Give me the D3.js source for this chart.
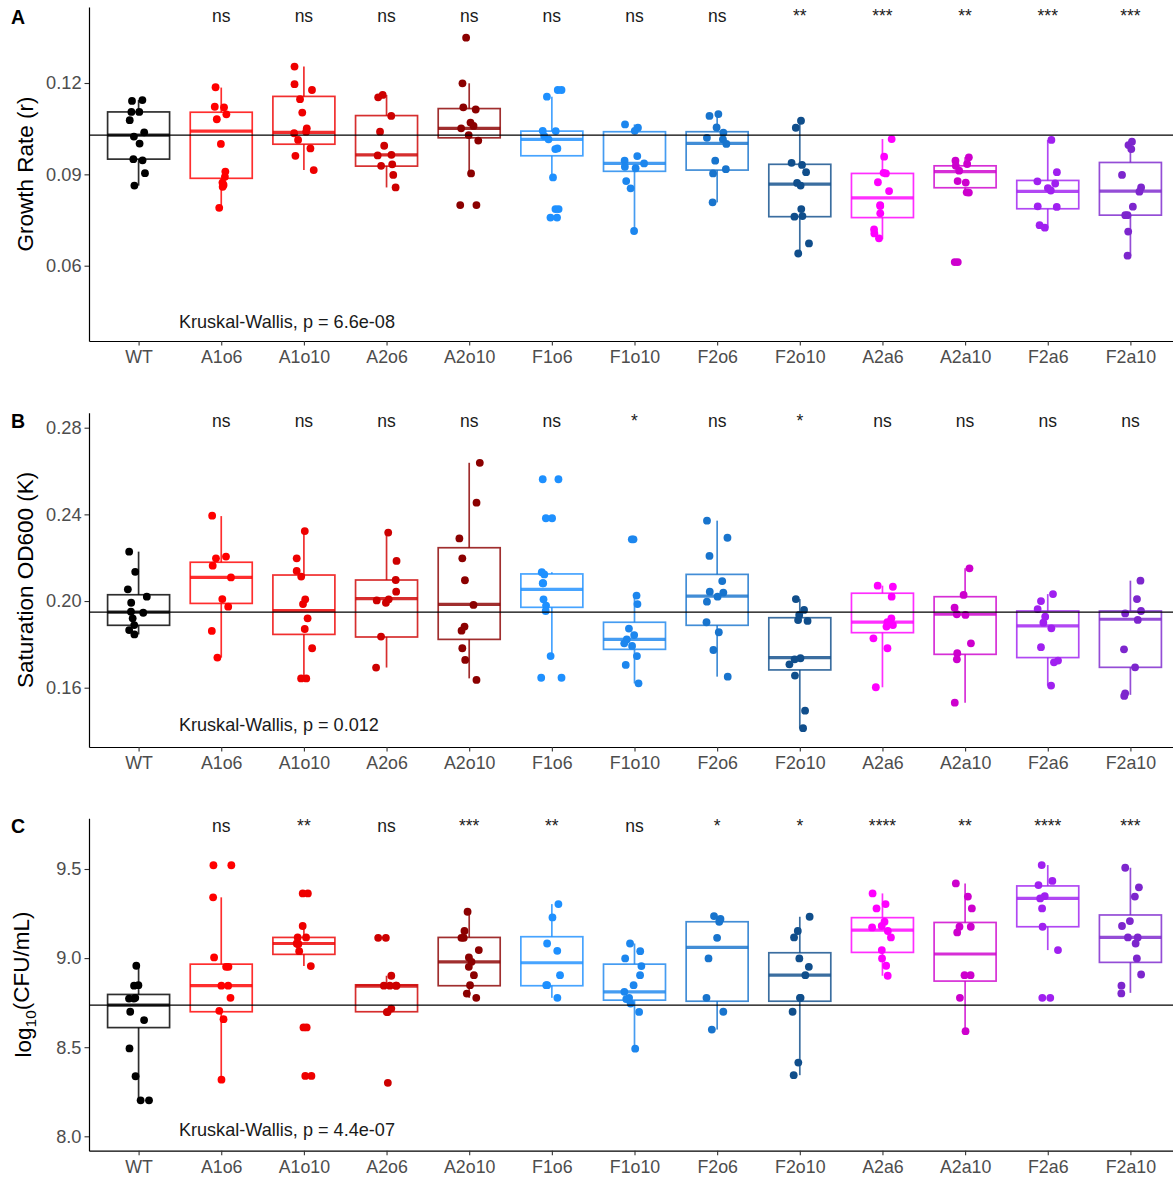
<!DOCTYPE html>
<html>
<head>
<meta charset="utf-8">
<script src="https://cdn.jsdelivr.net/npm/d3@7"></script>
<style>
  body { margin: 0; background: #fff; }
  svg { display: block; }
  text { font-family: "Liberation Sans", Arial, Helvetica, sans-serif; }
</style>
</head>
<body>
<svg id="chart" width="1173" height="1179"></svg>
<script>
// ---- strains ----
const categories = ["WT", "A1o6", "A1o10", "A2o6", "A2o10", "F1o6", "F1o10", "F2o6", "F2o10", "A2a6", "A2a10", "F2a6", "F2a10"];
const groupColors = ["#000000", "#FF0000", "#EE0000", "#CD0000", "#8B0000", "#1E90FF", "#1C86EE", "#1874CD", "#104E8B", "#FF00FF", "#CD00CD", "#A020F0", "#7D26CD"];

// ---- A: growth rate (r) ----
const growthPts = [
  [0.1144, 0.1141, 0.1105, 0.1105, 0.1078, 0.1038, 0.1024, 0.1001, 0.0950, 0.0946, 0.0904, 0.0863],
  [0.1186, 0.1122, 0.1120, 0.1097, 0.1081, 0.1000, 0.0909, 0.0892, 0.0873, 0.0865, 0.0859, 0.0790],
  [0.1254, 0.1196, 0.1177, 0.1147, 0.1103, 0.1051, 0.1040, 0.1035, 0.1013, 0.0985, 0.0961, 0.0914],
  [0.1161, 0.1153, 0.1092, 0.1040, 0.0994, 0.0964, 0.0962, 0.0933, 0.0928, 0.0898, 0.0857],
  [0.1349, 0.1199, 0.1120, 0.1113, 0.1070, 0.1059, 0.1051, 0.1029, 0.1011, 0.0903, 0.0799, 0.0799],
  [0.1177, 0.1177, 0.1155, 0.1043, 0.1042, 0.1026, 0.1015, 0.0985, 0.0983, 0.0890, 0.0786, 0.0786, 0.0758, 0.0758],
  [0.1064, 0.1053, 0.1043, 0.0960, 0.0945, 0.0936, 0.0925, 0.0920, 0.0878, 0.0854, 0.0714],
  [0.1098, 0.1092, 0.1054, 0.1037, 0.1020, 0.1015, 0.1000, 0.0945, 0.0917, 0.0903, 0.0808],
  [0.1076, 0.1053, 0.0938, 0.0931, 0.0907, 0.0872, 0.0863, 0.0786, 0.0763, 0.0761, 0.0673, 0.0640],
  [0.1016, 0.0958, 0.0905, 0.0903, 0.0874, 0.0845, 0.0799, 0.0796, 0.0772, 0.0719, 0.0706, 0.0690],
  [0.0956, 0.0945, 0.0934, 0.0928, 0.0912, 0.0878, 0.0873, 0.0841, 0.0840, 0.0612, 0.0612],
  [0.1013, 0.0907, 0.0877, 0.0870, 0.0855, 0.0847, 0.0795, 0.0793, 0.0733, 0.0725],
  [0.1007, 0.0996, 0.0983, 0.0898, 0.0857, 0.0843, 0.0794, 0.0766, 0.0766, 0.0712, 0.0633]
];
// [lower whisker, Q1, median, Q3, upper whisker]
const growthBox = [
  [0.0863, 0.0950, 0.1029, 0.1105, 0.1144],
  [0.0790, 0.0887, 0.1042, 0.1104, 0.1185],
  [0.0914, 0.0999, 0.1038, 0.1156, 0.1254],
  [0.0857, 0.0927, 0.0964, 0.1093, 0.1161],
  [0.0903, 0.1020, 0.1051, 0.1116, 0.1199],
  [0.0890, 0.0961, 0.1015, 0.1042, 0.1155],
  [0.0714, 0.0910, 0.0936, 0.1040, 0.1064],
  [0.0808, 0.0914, 0.1002, 0.1040, 0.1100],
  [0.0640, 0.0761, 0.0868, 0.0933, 0.1076],
  [0.0687, 0.0758, 0.0823, 0.0903, 0.1016],
  [0.0840, 0.0856, 0.0909, 0.0928, 0.0956],
  [0.0725, 0.0787, 0.0844, 0.0880, 0.1013],
  [0.0633, 0.0766, 0.0845, 0.0939, 0.1007]
];
const growthSig = ["", "ns", "ns", "ns", "ns", "ns", "ns", "ns", "**", "***", "**", "***", "***"];
const growthTicks = [0.06, 0.09, 0.12];

// ---- B: saturation OD600 (K) ----
const odPts = [
  [0.2228, 0.2135, 0.2054, 0.2020, 0.1992, 0.1951, 0.1946, 0.1920, 0.1889, 0.1866, 0.1846],
  [0.2394, 0.2205, 0.2197, 0.2163, 0.2109, 0.2009, 0.1974, 0.1862, 0.1739],
  [0.2323, 0.2197, 0.2139, 0.2113, 0.2008, 0.1986, 0.1920, 0.1871, 0.1782, 0.1643, 0.1643],
  [0.2316, 0.2185, 0.2097, 0.2043, 0.2008, 0.2003, 0.1992, 0.1836, 0.1693],
  [0.2638, 0.2454, 0.2289, 0.2197, 0.2096, 0.1982, 0.1882, 0.1863, 0.1782, 0.1728, 0.1636],
  [0.2562, 0.2562, 0.2382, 0.2382, 0.2133, 0.2123, 0.2082, 0.2082, 0.2008, 0.1979, 0.1954, 0.1746, 0.1646, 0.1646],
  [0.2285, 0.2285, 0.2025, 0.1986, 0.1873, 0.1843, 0.1823, 0.1805, 0.1793, 0.1746, 0.1705, 0.1620],
  [0.2371, 0.2292, 0.2208, 0.2092, 0.2043, 0.2039, 0.2020, 0.1997, 0.1902, 0.1856, 0.1774, 0.1651],
  [0.2009, 0.1959, 0.1936, 0.1912, 0.1908, 0.1736, 0.1731, 0.1708, 0.1656, 0.1494, 0.1413],
  [0.2071, 0.2066, 0.2020, 0.1920, 0.1903, 0.1889, 0.1882, 0.1828, 0.1782, 0.1602],
  [0.2151, 0.2028, 0.1969, 0.1939, 0.1936, 0.1805, 0.1759, 0.1731, 0.1531],
  [0.2032, 0.2000, 0.1963, 0.1928, 0.1900, 0.1874, 0.1787, 0.1725, 0.1717, 0.1610],
  [0.2094, 0.2009, 0.1954, 0.1943, 0.1913, 0.1777, 0.1694, 0.1574, 0.1562]
];
const odBox = [
  [0.1846, 0.1888, 0.1949, 0.2029, 0.2228],
  [0.1739, 0.1989, 0.2109, 0.2179, 0.2392],
  [0.1643, 0.1846, 0.1956, 0.2120, 0.2323],
  [0.1693, 0.1834, 0.2011, 0.2097, 0.2316],
  [0.1643, 0.1823, 0.1985, 0.2246, 0.2638],
  [0.1746, 0.1971, 0.2054, 0.2125, 0.2133],
  [0.1620, 0.1777, 0.1823, 0.1902, 0.2025],
  [0.1651, 0.1888, 0.2023, 0.2123, 0.2371],
  [0.1413, 0.1682, 0.1739, 0.1923, 0.2009],
  [0.1602, 0.1854, 0.1903, 0.2036, 0.2071],
  [0.1531, 0.1754, 0.1939, 0.2020, 0.2151],
  [0.1610, 0.1739, 0.1885, 0.1954, 0.2032],
  [0.1567, 0.1694, 0.1916, 0.1954, 0.2094]
];
const odSig = ["", "ns", "ns", "ns", "ns", "ns", "*", "ns", "*", "ns", "ns", "ns", "ns"];
const odTicks = [0.16, 0.20, 0.24, 0.28];

// ---- C: log10(CFU/mL) ----
const cfuPts = [
  [8.957, 8.848, 8.845, 8.777, 8.773, 8.773, 8.699, 8.652, 8.493, 8.337, 8.202, 8.202],
  [9.521, 9.521, 9.341, 9.004, 8.951, 8.951, 8.845, 8.845, 8.777, 8.704, 8.657, 8.318],
  [9.363, 9.363, 9.180, 9.116, 9.116, 9.082, 9.079, 9.079, 9.039, 8.955, 8.611, 8.611, 8.339, 8.339],
  [9.114, 9.114, 8.901, 8.845, 8.845, 8.845, 8.845, 8.717, 8.697, 8.697, 8.300],
  [9.260, 9.152, 9.114, 9.114, 9.045, 9.004, 8.979, 8.951, 8.904, 8.848, 8.801, 8.777],
  [9.303, 9.228, 9.082, 9.041, 8.904, 8.848, 8.848, 8.777],
  [9.082, 9.039, 8.998, 8.955, 8.904, 8.848, 8.811, 8.777, 8.770, 8.745, 8.698, 8.492],
  [9.236, 9.220, 9.204, 9.114, 8.998, 8.777, 8.699, 8.599],
  [9.232, 9.152, 9.116, 8.998, 8.951, 8.904, 8.777, 8.777, 8.699, 8.414, 8.343],
  [9.363, 9.303, 9.279, 9.204, 9.180, 9.172, 9.152, 9.116, 9.045, 8.998, 8.957, 8.901],
  [9.419, 9.345, 9.279, 9.176, 9.176, 9.144, 8.904, 8.904, 8.777, 8.590],
  [9.522, 9.433, 9.410, 9.348, 9.335, 9.279, 9.176, 9.045, 8.777, 8.777],
  [9.507, 9.397, 9.345, 9.208, 9.180, 9.116, 9.116, 9.082, 8.998, 8.908, 8.845, 8.802]
];
const cfuBox = [
  [8.202, 8.610, 8.736, 8.796, 8.957],
  [8.318, 8.699, 8.845, 8.966, 9.341],
  [8.955, 9.021, 9.082, 9.116, 9.180],
  [8.697, 8.699, 8.843, 8.850, 8.901],
  [8.777, 8.845, 8.979, 9.116, 9.260],
  [8.777, 8.845, 8.974, 9.120, 9.303],
  [8.492, 8.764, 8.811, 8.966, 9.082],
  [8.599, 8.758, 9.060, 9.204, 9.236],
  [8.343, 8.758, 8.904, 9.030, 9.232],
  [8.901, 9.032, 9.157, 9.227, 9.363],
  [8.590, 8.871, 9.023, 9.200, 9.419],
  [9.045, 9.176, 9.335, 9.405, 9.522],
  [8.805, 8.976, 9.116, 9.242, 9.507]
];
const cfuSig = ["", "ns", "**", "ns", "***", "**", "ns", "*", "*", "****", "**", "****", "***"];
const cfuTicks = [8.0, 8.5, 9.0, 9.5];

// ---- panel setup ----
const panels = [
  { letter: "A", title: ["Growth Rate (r)"], pts: growthPts, box: growthBox, sig: growthSig,
    ticks: growthTicks, fmt: ".2f", kw: "Kruskal-Wallis, p = 6.6e-08",
    top: 7, bottom: 341, domain: [0.03527, 0.14496], sigY: 0.1401, kwY: 0.0396,
    letterY: 24, titleX: 33 },
  { letter: "B", title: ["Saturation OD600 (K)"], pts: odPts, box: odBox, sig: odSig,
    ticks: odTicks, fmt: ".2f", kw: "Kruskal-Wallis, p = 0.012",
    top: 412.7, bottom: 747, domain: [0.13263, 0.28692], sigY: 0.2802, kwY: 0.1400,
    letterY: 428.3, titleX: 32.5 },
  { letter: "C", title: null, pts: cfuPts, box: cfuBox, sig: cfuSig,
    ticks: cfuTicks, fmt: ".1f", kw: "Kruskal-Wallis, p = 4.4e-07",
    top: 818.3, bottom: 1150.7, domain: [7.9192, 9.7845], sigY: 9.706, kwY: 8.0,
    letterY: 833, titleX: 31 }
];

const svg = d3.select("#chart");
svg.append("rect").attr("width", 1173).attr("height", 1179).attr("fill", "#fff");

const plotLeft = 89, plotRight = 1180;
const x = d3.scalePoint().domain(categories).range([plotLeft, plotRight]).padding(0.6);
const step = x.step();
const boxHalf = 0.375 * step;
const jitterWidth = 0.13 * step;

// small seeded generator so the horizontal jitter is stable between renders
function seeded(seed) {
  let s = seed >>> 0;
  return function () {
    s = (s + 0x6D2B79F5) >>> 0;
    let t = s;
    t = Math.imul(t ^ (t >>> 15), t | 1);
    t ^= t + Math.imul(t ^ (t >>> 7), t | 61);
    return ((t ^ (t >>> 14)) >>> 0) / 4294967296;
  };
}

panels.forEach((p, pi) => {
  const y = d3.scaleLinear().domain(p.domain).range([p.bottom, p.top]);
  const g = svg.append("g");
  const rand = seeded(17 + pi * 101);

  // boxes and whiskers
  const boxes = g.append("g");
  p.box.forEach((b, i) => {
    const cx = x(categories[i]);
    const col = groupColors[i];
    const bg = boxes.append("g").attr("stroke", col).attr("stroke-opacity", 0.82).attr("fill", "none");
    bg.append("line").attr("x1", cx).attr("x2", cx).attr("y1", y(b[3])).attr("y2", y(b[4])).attr("stroke-width", 1.7);
    bg.append("line").attr("x1", cx).attr("x2", cx).attr("y1", y(b[1])).attr("y2", y(b[0])).attr("stroke-width", 1.7);
    bg.append("rect").attr("x", cx - boxHalf).attr("width", 2 * boxHalf)
      .attr("y", y(b[3])).attr("height", y(b[1]) - y(b[3])).attr("stroke-width", 1.7);
    bg.append("line").attr("x1", cx - boxHalf).attr("x2", cx + boxHalf)
      .attr("y1", y(b[2])).attr("y2", y(b[2])).attr("stroke-width", 3.2);
  });

  // jittered observations
  const dots = g.append("g");
  p.pts.forEach((vals, i) => {
    const cx = x(categories[i]);
    vals.forEach(v => {
      const dx = (rand() * 2 - 1) * jitterWidth;
      dots.append("circle").attr("cx", cx + dx).attr("cy", y(v)).attr("r", 3.9)
        .attr("fill", groupColors[i]);
    });
  });

  // WT median reference line
  g.append("line").attr("x1", plotLeft).attr("x2", plotRight)
    .attr("y1", y(p.box[0][2])).attr("y2", y(p.box[0][2]))
    .attr("stroke", "#000").attr("stroke-width", 1.3);

  // axes
  const ya = g.append("g").attr("transform", `translate(${plotLeft},0)`)
    .call(d3.axisLeft(y).tickValues(p.ticks).tickFormat(d3.format(p.fmt)).tickSize(4.5).tickSizeOuter(0).tickPadding(3));
  const xa = g.append("g").attr("transform", `translate(0,${p.bottom})`)
    .call(d3.axisBottom(x).tickSize(4.5).tickSizeOuter(0).tickPadding(5));
  [ya, xa].forEach(a => {
    a.select(".domain").attr("stroke", "#000").attr("stroke-width", 1.2);
    a.selectAll(".tick line").attr("stroke", "#333").attr("stroke-width", 1.1);
    a.selectAll(".tick text").attr("fill", "#4D4D4D").attr("font-size", 17.8)
      .attr("font-family", '"Liberation Sans", Arial, Helvetica, sans-serif');
  });
  ya.selectAll(".tick text").attr("font-size", 18.2);

  // significance versus WT
  g.append("g").selectAll("text").data(p.sig).join("text")
    .attr("x", (d, i) => x(categories[i]))
    .attr("y", y(p.sigY))
    .attr("text-anchor", "middle")
    .attr("font-size", 17.5)
    .attr("fill", "#1a1a1a")
    .text(d => d);

  // Kruskal-Wallis summary
  g.append("text")
    .attr("x", x(categories[0]) + step / 2 - 1)
    .attr("y", y(p.kwY))
    .attr("font-size", 18.1)
    .attr("fill", "#1a1a1a")
    .text(p.kw);

  // y title
  const cy = (p.top + p.bottom) / 2;
  const t = g.append("text")
    .attr("transform", `translate(${p.titleX},${cy}) rotate(-90)`)
    .attr("text-anchor", "middle")
    .attr("font-size", 22.5)
    .attr("fill", "#000");
  if (p.title) {
    t.text(p.title[0]);
  } else {
    t.append("tspan").text("log");
    t.append("tspan").attr("font-size", 15.5).attr("dy", "0.32em").text("10");
    t.append("tspan").attr("dy", "-0.32em").text("(CFU/mL)");
  }

  // panel tag
  g.append("text")
    .attr("x", 11)
    .attr("y", p.letterY)
    .attr("font-size", 19.5)
    .attr("font-weight", "bold")
    .attr("fill", "#000")
    .text(p.letter);
});
</script>
</body>
</html>
